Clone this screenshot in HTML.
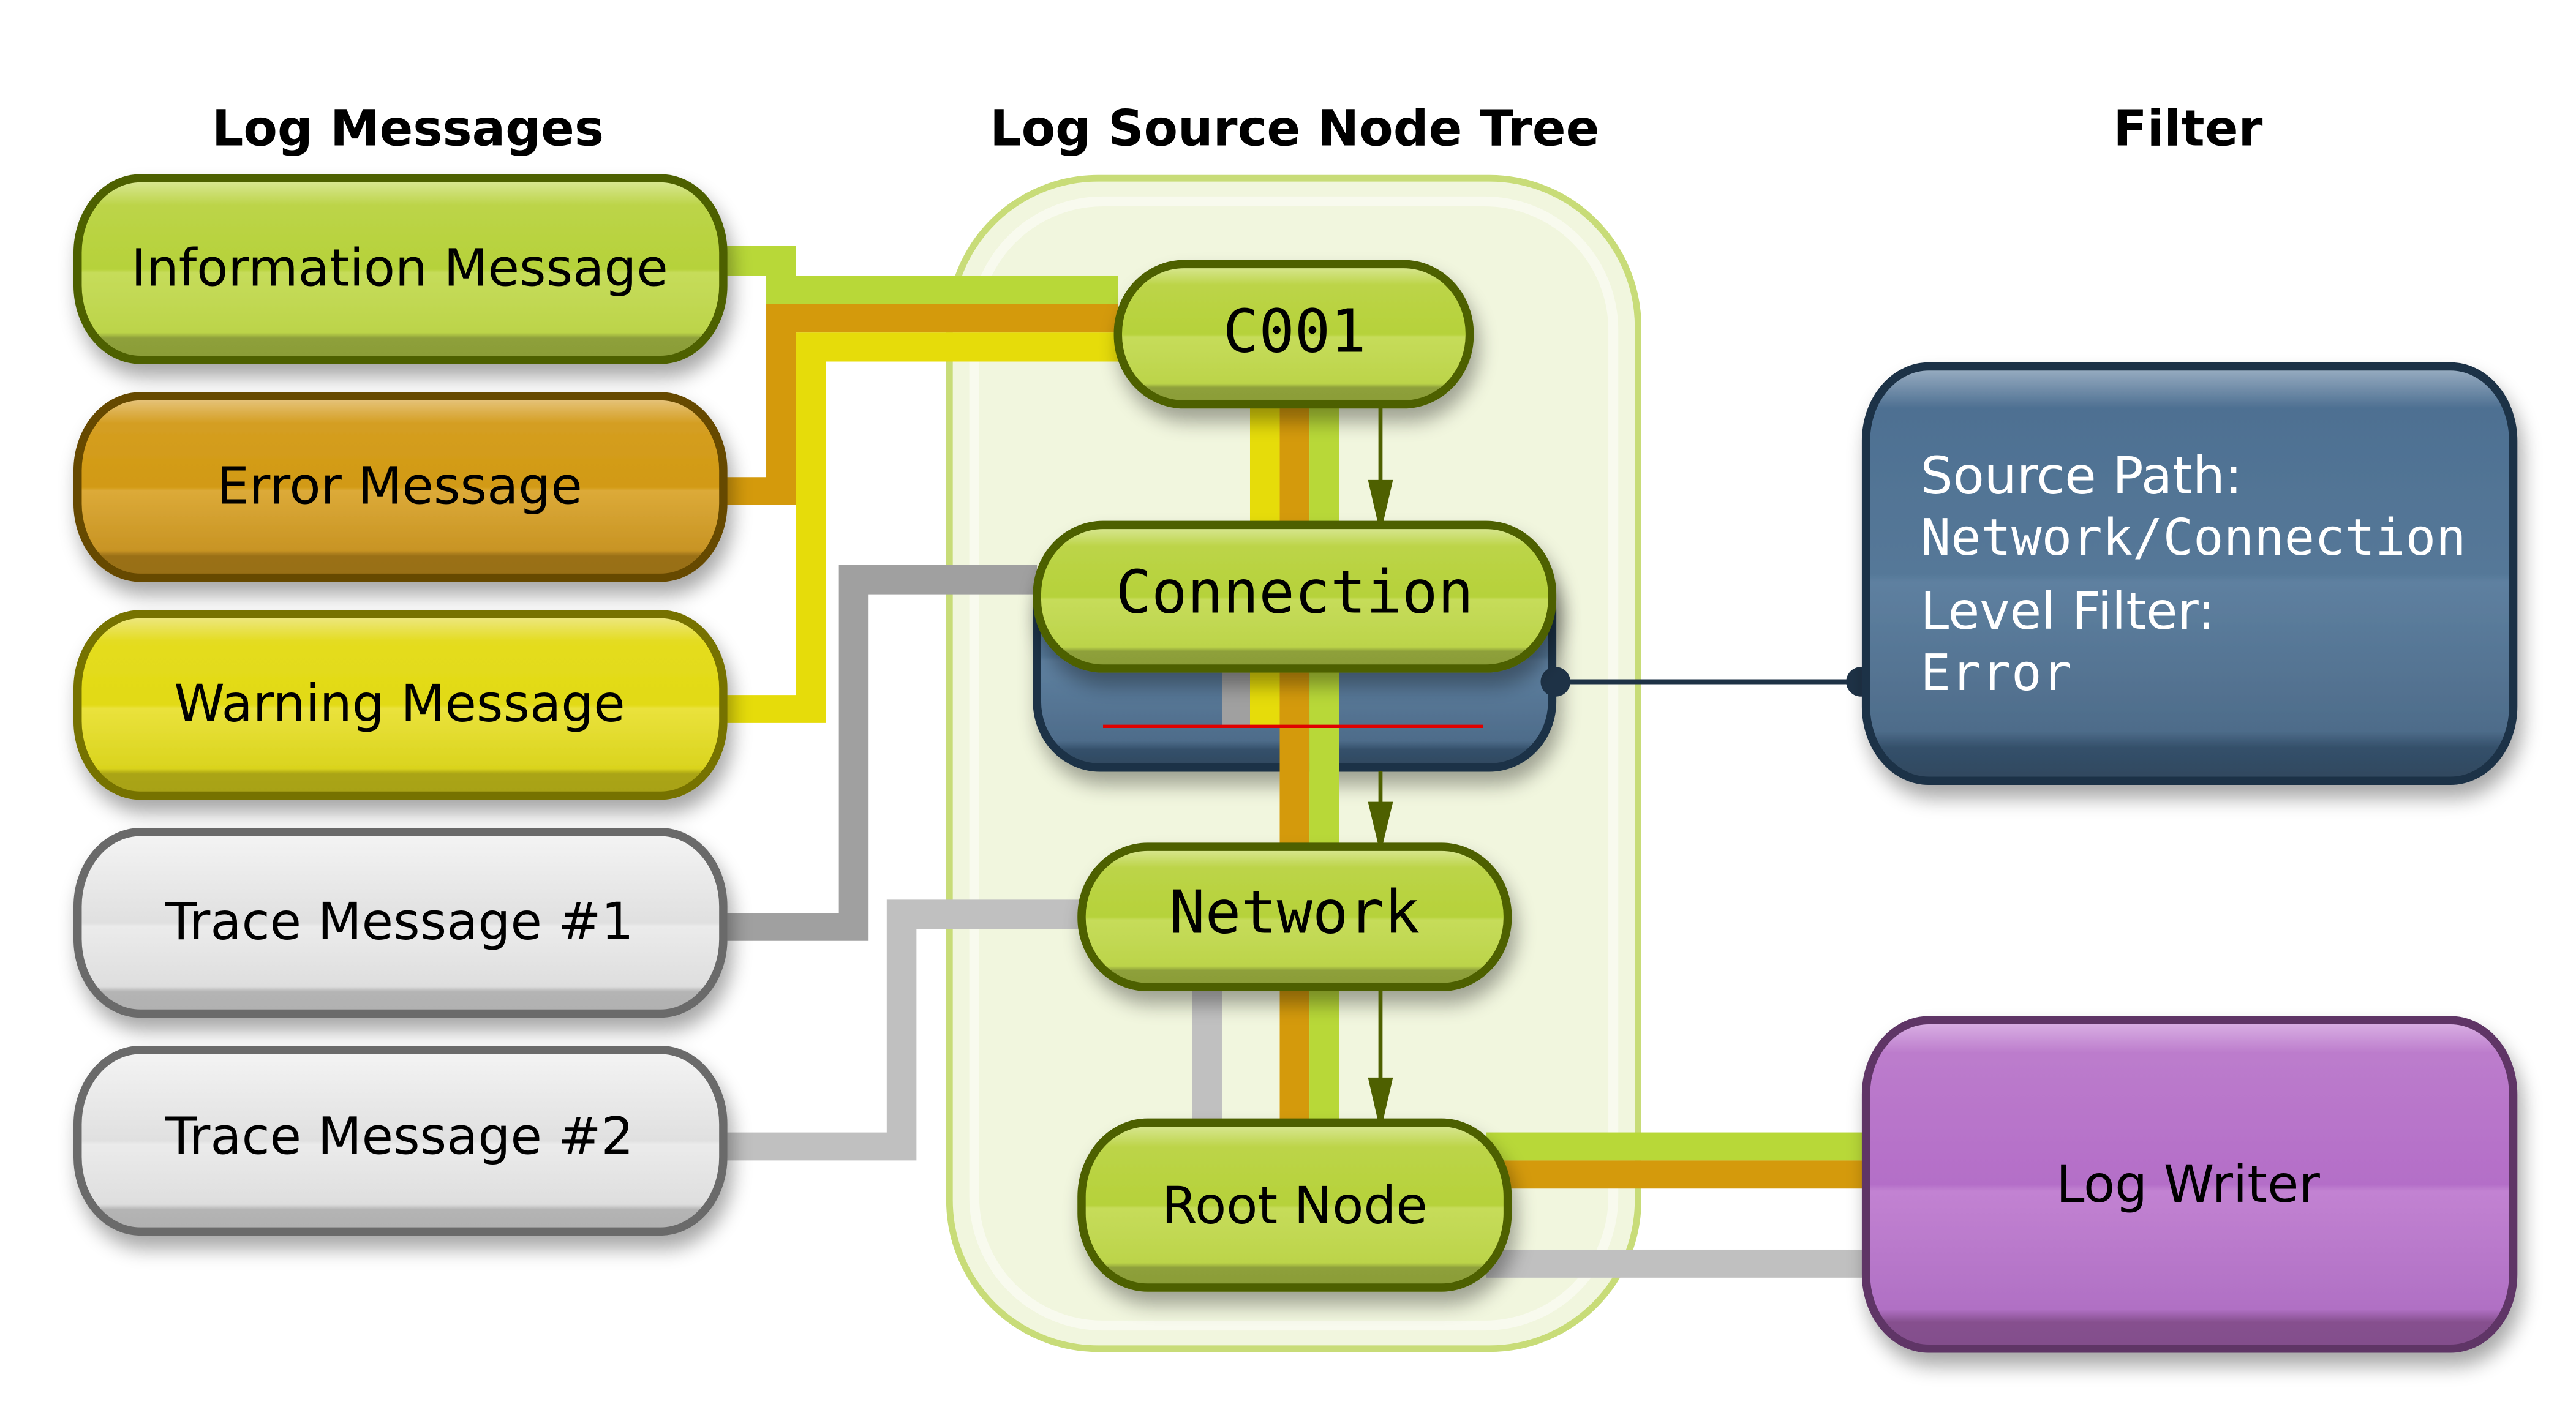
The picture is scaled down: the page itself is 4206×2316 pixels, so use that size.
<!DOCTYPE html>
<html><head><meta charset="utf-8"><style>html,body{margin:0;padding:0;background:#fff}svg{display:block}</style></head>
<body>
<svg width="4206" height="2316" viewBox="0 0 1560 859" xmlns="http://www.w3.org/2000/svg">
<defs>
<filter id="sh" x="-20%" y="-20%" width="140%" height="150%"><feGaussianBlur in="SourceAlpha" stdDeviation="6"/><feOffset dx="3" dy="8"/><feComponentTransfer><feFuncA type="linear" slope="0.35"/></feComponentTransfer><feMerge><feMergeNode/><feMergeNode in="SourceGraphic"/></feMerge></filter>
<linearGradient id="gG" x1="0" y1="0" x2="0" y2="1"><stop offset="0" stop-color="#dce99c"/><stop offset="0.15" stop-color="#bcd448"/><stop offset="0.5" stop-color="#b6d23a"/><stop offset="0.52" stop-color="#c6dc5a"/><stop offset="0.85" stop-color="#bcd44a"/><stop offset="0.88" stop-color="#8ea03a"/><stop offset="1" stop-color="#8a9c38"/></linearGradient>
<linearGradient id="gO" x1="0" y1="0" x2="0" y2="1"><stop offset="0" stop-color="#e8c886"/><stop offset="0.15" stop-color="#d49e22"/><stop offset="0.5" stop-color="#d29a12"/><stop offset="0.52" stop-color="#dcaa38"/><stop offset="0.85" stop-color="#c89424"/><stop offset="0.88" stop-color="#9a7018"/><stop offset="1" stop-color="#986e16"/></linearGradient>
<linearGradient id="gY" x1="0" y1="0" x2="0" y2="1"><stop offset="0" stop-color="#eee88c"/><stop offset="0.15" stop-color="#e4dc20"/><stop offset="0.5" stop-color="#e2da14"/><stop offset="0.52" stop-color="#eae23c"/><stop offset="0.85" stop-color="#dad41e"/><stop offset="0.88" stop-color="#aaa414"/><stop offset="1" stop-color="#a8a214"/></linearGradient>
<linearGradient id="gW" x1="0" y1="0" x2="0" y2="1"><stop offset="0" stop-color="#f4f4f4"/><stop offset="0.5" stop-color="#e0e0e0"/><stop offset="0.52" stop-color="#ebebeb"/><stop offset="0.85" stop-color="#dedede"/><stop offset="0.88" stop-color="#b4b4b4"/><stop offset="1" stop-color="#b0b0b0"/></linearGradient>
<linearGradient id="gB" x1="0" y1="0" x2="0" y2="1"><stop offset="0" stop-color="#9cb0c4"/><stop offset="0.1" stop-color="#4e7092"/><stop offset="0.5" stop-color="#557898"/><stop offset="0.52" stop-color="#5e80a0"/><stop offset="0.88" stop-color="#4e6c8a"/><stop offset="0.92" stop-color="#34506a"/><stop offset="1" stop-color="#30485e"/></linearGradient>
<linearGradient id="gP" x1="0" y1="0" x2="0" y2="1"><stop offset="0" stop-color="#dcb4e6"/><stop offset="0.1" stop-color="#bc7ccc"/><stop offset="0.5" stop-color="#b46ec8"/><stop offset="0.52" stop-color="#c282d2"/><stop offset="0.88" stop-color="#b070c4"/><stop offset="0.92" stop-color="#86508e"/><stop offset="1" stop-color="#824e8c"/></linearGradient>
</defs>

<g font-family="DejaVu Sans, sans-serif" font-weight="bold" font-size="30" text-anchor="middle" fill="#000">
<text x="247" y="88">Log Messages</text>
<text x="784" y="88">Log Source Node Tree</text>
<text x="1325" y="88">Filter</text>
</g>

<rect x="575" y="108" width="417" height="709" rx="90" fill="#f1f6de" stroke="#c8dc78" stroke-width="4"/>
<rect x="590" y="122" width="387" height="681" rx="78" fill="none" stroke="#f8faee" stroke-width="6"/>

<g>
<path d="M438 149H482V167H677V184H464V167H438Z" fill="#b8d838"/>
<path d="M464 184H677V201.5H482V306H438V289H464Z" fill="#d49a0c"/>
<path d="M482 201.5H677V219H500V438H438V421H482Z" fill="#e6dc0a"/>
<path d="M508 342H628V360H526V570H438V553H508Z" fill="#a0a0a0"/>
<path d="M537 545H655V563H555V703H438V686H537Z" fill="#c0c0c0"/>
<rect x="757" y="240" width="18" height="82" fill="#e6dc0a"/>
<rect x="775" y="240" width="18" height="280" fill="#d49a0c"/>
<rect x="793" y="240" width="18" height="82" fill="#b8d838"/>
<rect x="722" y="595" width="18" height="90" fill="#c0c0c0"/>
<rect x="775" y="595" width="18" height="90" fill="#d49a0c"/>
<rect x="793" y="595" width="18" height="90" fill="#b8d838"/>
<rect x="900" y="686" width="232" height="17" fill="#b8d838"/>
<rect x="900" y="703" width="232" height="17" fill="#d49a0c"/>
<rect x="900" y="757" width="232" height="17" fill="#c0c0c0"/>
</g>

<g filter="url(#sh)" stroke-width="5">
<rect x="47" y="108" width="391" height="110" rx="38" ry="45" fill="url(#gG)" stroke="#4e6000"/>
<rect x="47" y="240" width="391" height="110" rx="38" ry="45" fill="url(#gO)" stroke="#664800"/>
<rect x="47" y="372" width="391" height="110" rx="38" ry="45" fill="url(#gY)" stroke="#767200"/>
<rect x="47" y="504" width="391" height="110" rx="38" ry="45" fill="url(#gW)" stroke="#6a6a6a"/>
<rect x="47" y="636" width="391" height="110" rx="38" ry="45" fill="url(#gW)" stroke="#6a6a6a"/>
</g>
<g font-family="DejaVu Sans, sans-serif" font-size="31" text-anchor="middle" fill="#000">
<text x="242" y="173">Information Message</text>
<text x="242" y="305">Error Message</text>
<text x="242" y="437">Warning Message</text>
<text x="242" y="569">Trace Message #1</text>
<text x="242" y="699">Trace Message #2</text>
</g>

<g filter="url(#sh)">
<rect x="628" y="330" width="312" height="135" rx="38" ry="40" fill="url(#gB)" stroke="#1e3246" stroke-width="5"/>
</g>
<rect x="740" y="400" width="17" height="40" fill="#a0a0a0"/>
<rect x="757" y="400" width="18" height="40" fill="#e6dc0a"/>
<rect x="775" y="400" width="18" height="120" fill="#d49a0c"/>
<rect x="793" y="400" width="18" height="115" fill="#b8d838"/>
<line x1="668" y1="440" x2="898" y2="440" stroke="#e00000" stroke-width="2"/>

<line x1="942" y1="413" x2="1127" y2="413" stroke="#1e3246" stroke-width="3"/>
<circle cx="942" cy="413" r="9" fill="#1e3246"/>
<circle cx="1127" cy="413" r="9" fill="#1e3246"/>

<g filter="url(#sh)" stroke="#4e6000" stroke-width="5" fill="url(#gG)">
<rect x="677" y="160" width="213" height="85" rx="40" ry="42"/>
<rect x="628" y="318" width="312" height="87" rx="40" ry="42"/>
<rect x="655" y="513" width="258" height="85" rx="40" ry="42"/>
<rect x="655" y="680" width="258" height="100" rx="40" ry="45"/>
</g>
<g font-family="DejaVu Sans Mono, monospace" font-size="36" text-anchor="middle" fill="#000">
<text x="784" y="213">C001</text>
<text x="784" y="371">Connection</text>
<text x="784" y="565">Network</text>
</g>
<text x="784" y="741" font-family="DejaVu Sans, sans-serif" font-size="31" text-anchor="middle">Root Node</text>

<g stroke="#4e6000" stroke-width="2.5" fill="#4e6000">
<line x1="836" y1="247" x2="836" y2="300"/><path d="M830 292L842 292L836 318Z"/>
<line x1="836" y1="467" x2="836" y2="495"/><path d="M830 487L842 487L836 512Z"/>
<line x1="836" y1="600" x2="836" y2="660"/><path d="M830 654L842 654L836 680Z"/>
</g>

<g filter="url(#sh)">
<rect x="1130" y="222" width="392" height="251" rx="38" ry="45" fill="url(#gB)" stroke="#1e3246" stroke-width="5"/>
<rect x="1130" y="618" width="392" height="199" rx="38" ry="45" fill="url(#gP)" stroke="#5e3466" stroke-width="5"/>
</g>
<g font-family="DejaVu Sans, sans-serif" font-size="31" fill="#fff">
<text x="1163" y="299">Source Path:</text>
<text x="1163" y="381">Level Filter:</text>
</g>
<g font-family="DejaVu Sans Mono, monospace" font-size="30.5" fill="#fff">
<text x="1163" y="336">Network/Connection</text>
<text x="1163" y="418">Error</text>
</g>
<text x="1325" y="728" font-family="DejaVu Sans, sans-serif" font-size="31" text-anchor="middle">Log Writer</text>
</svg>
</body></html>
